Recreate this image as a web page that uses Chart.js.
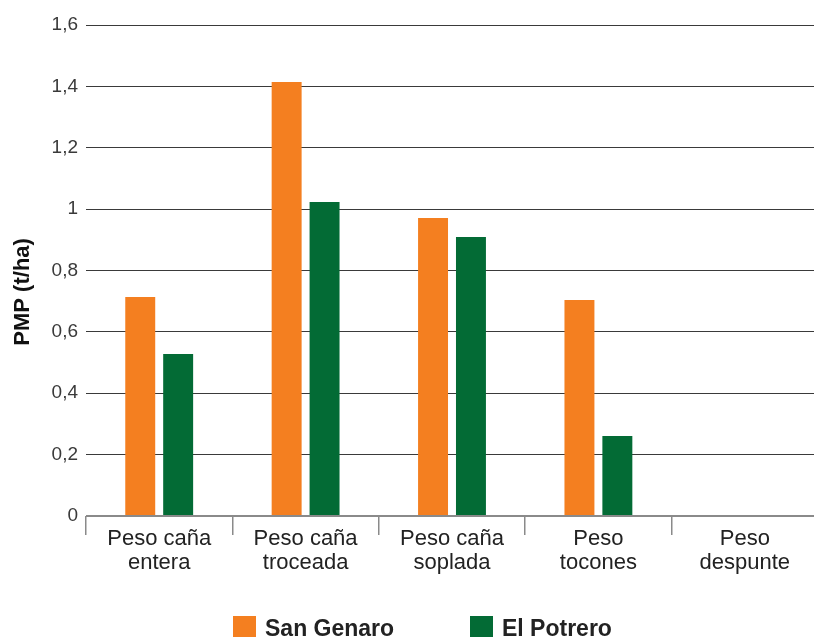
<!DOCTYPE html>
<html>
<head>
<meta charset="utf-8">
<script src="https://cdn.jsdelivr.net/npm/chart.js@4/dist/chart.umd.min.js"></script>
<style>
  html, body { margin: 0; padding: 0; background: #fff; }
  #wrap { width: 814px; height: 637px; overflow: hidden; position: relative; }
  #box { width: 822px; height: 637px; position: absolute; left: 0; top: 0; }
  .leg { position: absolute; top: 616px; height: 23px; font: bold 23px "Liberation Sans"; line-height: 23px; color: #222; white-space: nowrap; }
  .leg i { position: absolute; left: 0; top: 0; width: 23px; height: 21px; }
  .leg span { position: absolute; left: 32px; top: 1px; }
</style>
</head>
<body>
<div id="wrap">
  <div id="box"><canvas id="chart"></canvas></div>
  <div id="legend"></div>
</div>
<script>
// categorías y series
const categories = [
  ["Peso caña", "entera"],
  ["Peso caña", "troceada"],
  ["Peso caña", "soplada"],
  ["Peso", "tocones"],
  ["Peso", "despunte"]
];
const sanGenaro = [0.714, 1.414, 0.971, 0.704, 0];
const elPotrero = [0.528, 1.023, 0.909, 0.261, 0];
const seriesNames = ["San Genaro", "El Potrero"];
const seriesColors = ["#f47f20", "#036b35"];
const yTicks = [0, 0.2, 0.4, 0.6, 0.8, 1, 1.2, 1.4, 1.6];

const fmt = v => String(Number(v.toFixed(1))).replace(".", ",");

// leyenda abajo
const legendX = [233, 470];
const legendDiv = document.getElementById("legend");
seriesNames.forEach((name, i) => {
  const d = document.createElement("div");
  d.className = "leg";
  d.style.left = legendX[i] + "px";
  d.innerHTML = `<i style="background:${seriesColors[i]}"></i><span>${name}</span>`;
  legendDiv.appendChild(d);
});

const ctx = document.getElementById("chart").getContext("2d");
new Chart(ctx, {
  type: "bar",
  data: {
    labels: categories,
    datasets: [
      { label: seriesNames[0], data: sanGenaro, backgroundColor: seriesColors[0] },
      { label: seriesNames[1], data: elPotrero, backgroundColor: seriesColors[1] }
    ]
  },
  options: {
    responsive: true,
    maintainAspectRatio: false,
    animation: false,
    categoryPercentage: 0.518,
    barPercentage: 0.79,
    layout: { padding: { top: 25, right: 4, left: 10, bottom: 0 } },
    plugins: {
      tooltip: { enabled: false },
      legend: { display: false }
    },
    scales: {
      x: {
        afterFit: s => { s.height = 121; },
        border: { display: false },
        grid: {
          drawOnChartArea: false,
          drawTicks: true,
          tickLength: 19,
          color: "#8a8a8a",
          lineWidth: 1.5
        },
        ticks: {
          color: "#222",
          padding: -8,
          font: { family: "Liberation Sans", size: 22, lineHeight: 1.1 }
        }
      },
      y: {
        min: 0,
        max: 1.6,
        afterBuildTicks: s => { s.ticks = yTicks.map(v => ({ value: v })); },
        afterFit: s => { s.width = 76; },
        border: { display: false },
        grid: {
          drawTicks: false,
          color: c => c.tick && c.tick.value === 0 ? "#8a8a8a" : "#3a3a3a",
          lineWidth: c => c.tick && c.tick.value === 0 ? 2 : 1
        },
        ticks: {
          color: "#3a3a3a",
          padding: 8,
          callback: v => fmt(v),
          font: { family: "Liberation Sans", size: 19 }
        },
        title: {
          display: true,
          text: "PMP (t/ha)       ",
          color: "#111",
          padding: 0,
          font: { family: "Liberation Sans", size: 22, weight: "bold" }
        }
      }
    }
  }
});
</script>
</body>
</html>
